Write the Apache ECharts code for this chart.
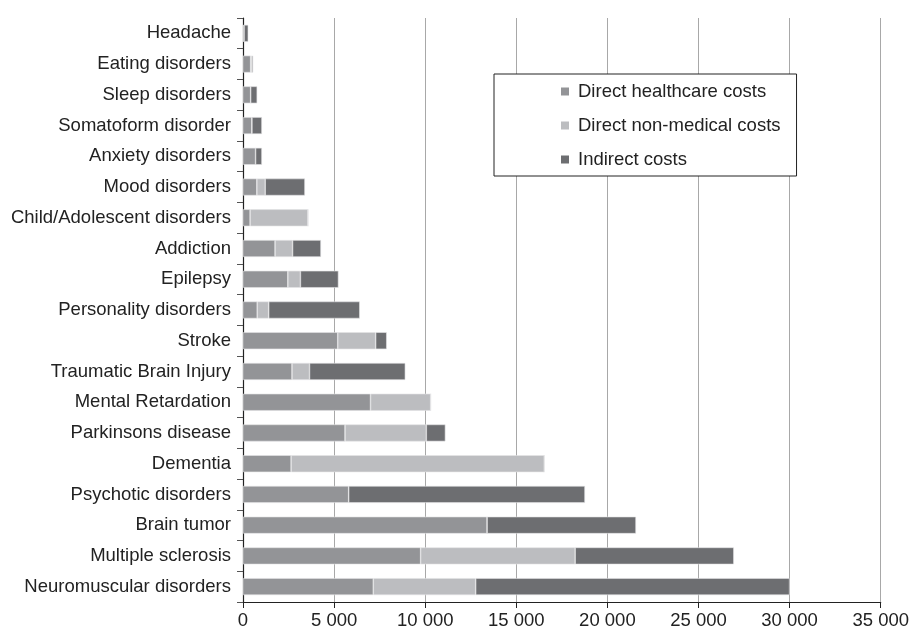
<!DOCTYPE html>
<html>
<head>
<meta charset="utf-8">
<script src="https://cdn.jsdelivr.net/npm/echarts@6/dist/echarts.min.js"></script>
<style>html,body{margin:0;padding:0;background:#fff}#c{width:912px;height:637px}</style>
</head>
<body>
<div id="c"></div>
<script>
const categories = ["Neuromuscular disorders","Multiple sclerosis","Brain tumor","Psychotic disorders","Dementia","Parkinsons disease","Mental Retardation","Traumatic Brain Injury","Stroke","Personality disorders","Epilepsy","Addiction","Child/Adolescent disorders","Mood disorders","Anxiety disorders","Somatoform disorder","Sleep disorders","Eating disorders","Headache"];
const directHealthcare = [7150, 9750, 13400, 5800, 2640, 5600, 7000, 2690, 5200, 780, 2460, 1760, 390, 760, 690, 490, 420, 420, 60];
const directNonMedical = [5620, 8480, 0, 0, 13900, 4460, 3300, 960, 2080, 630, 690, 960, 3180, 460, 0, 0, 0, 70, 0];
const indirectCosts = [17230, 8710, 8170, 12970, 0, 1050, 0, 5260, 610, 5000, 2090, 1560, 0, 2180, 350, 550, 360, 70, 230];
const xTicks = [0, 5000, 10000, 15000, 20000, 25000, 30000, 35000];

const chart = echarts.init(document.getElementById('c'));
const font = 'Liberation Sans, Arial, Helvetica, sans-serif';
const fmt = v => v === 0 ? '0' : String(v).replace(/\B(?=(\d{3})+(?!\d))/g, ' ');
const mk = (name, data, color) => ({
  name, type: 'bar', stack: 'total', data, barWidth: 17,
  itemStyle: { color, borderColor: '#e4e4e6', borderWidth: 0.6 },
  emphasis: { disabled: true }
});
chart.setOption({
  animation: false,
  textStyle: { fontFamily: font },
  grid: { left: 243, right: 31, top: 18, bottom: 35, containLabel: false },
  legend: {
    orient: 'vertical', left: 494, top: 74,
    padding: [8, 16, 7, 67],
    itemWidth: 8, itemHeight: 8, itemGap: 15,
    backgroundColor: '#fff', borderColor: '#222', borderWidth: 1,
    itemStyle: { borderWidth: 0 },
    textStyle: { fontSize: 18.5, color: '#222', fontFamily: font, lineHeight: 18, padding: [0, 0, 0, 4] },
    data: ['Direct healthcare costs', 'Direct non-medical costs', 'Indirect costs'],
    icon: 'rect'
  },
  xAxis: {
    type: 'value', min: xTicks[0], max: xTicks[xTicks.length - 1], interval: xTicks[1] - xTicks[0],
    axisLine: { show: true, lineStyle: { color: '#222', width: 1.2 } },
    axisTick: { show: true, length: 6, lineStyle: { color: '#222' } },
    axisLabel: { fontSize: 18.5, color: '#222', margin: 9, formatter: fmt },
    splitLine: { show: true, lineStyle: { color: '#a8a8a8', width: 1 } }
  },
  yAxis: {
    type: 'category', data: categories,
    axisLine: { show: true, lineStyle: { color: '#222', width: 1.2 } },
    axisTick: { show: true, length: 6, lineStyle: { color: '#555' } },
    axisLabel: { fontSize: 18.5, color: '#222', margin: 12 },
    splitLine: { show: false }
  },
  series: [
    mk('Direct healthcare costs', directHealthcare, '#939497'),
    mk('Direct non-medical costs', directNonMedical, '#bcbdc0'),
    mk('Indirect costs', indirectCosts, '#6d6e71')
  ]
});
</script>
</body>
</html>
